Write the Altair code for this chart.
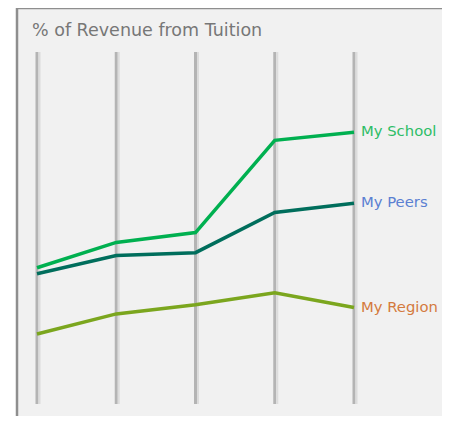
import altair as alt
import pandas as pd

years = [2015, 2016, 2017, 2018, 2019]
my_school = [38.7, 45.9, 48.7, 74.9, 77.2]
my_peers = [37.0, 42.2, 43.0, 54.4, 57.0]
my_region = [19.9, 25.6, 28.2, 31.6, 27.4]
series_names = ["My School", "My Peers", "My Region"]
line_colors = ["#00b050", "#006e5c", "#7ba61e"]
label_colors = ["#2dbd66", "#5b80d2", "#d47a3e"]
title_text = "% of Revenue from Tuition"

rows = []
for name, vals in zip(series_names, [my_school, my_peers, my_region]):
    for y, v in zip(years, vals):
        rows.append({"year": y, "value": v, "series": name})
df = pd.DataFrame(rows)
last = df[df["year"] == years[-1]]
grid = pd.DataFrame({"year": years, "lo": [0] * len(years), "hi": [100] * len(years)})

W, H = 425, 408
xs = alt.Scale(domain=[years[0], years[-1]], range=[20, 337])
ys = alt.Scale(domain=[0, 100], range=[396, 44])

g1 = alt.Chart(grid).mark_rule(color="#b4b4b4", strokeWidth=3).encode(
    x=alt.X("year:Q", scale=xs, axis=None),
    y=alt.Y("lo:Q", scale=ys, axis=None),
    y2="hi:Q",
)
g2 = alt.Chart(grid).mark_rule(color="#dcdcdc", strokeWidth=2, xOffset=2.5).encode(
    x=alt.X("year:Q", scale=xs, axis=None),
    y=alt.Y("lo:Q", scale=ys, axis=None),
    y2="hi:Q",
)

lines = alt.Chart(df).mark_line(strokeWidth=3.5).encode(
    x=alt.X("year:Q", scale=xs, axis=None),
    y=alt.Y("value:Q", scale=ys, axis=None),
    color=alt.Color("series:N", scale=alt.Scale(domain=series_names, range=line_colors), legend=None),
    detail="series:N",
)

labels = alt.Chart(last).mark_text(align="left", baseline="middle", dx=7, fontSize=14.8, font="DejaVu Sans").encode(
    x=alt.X("year:Q", scale=xs, axis=None),
    y=alt.Y("value:Q", scale=ys, axis=None),
    text="series:N",
    color=alt.Color("series:N", scale=alt.Scale(domain=series_names, range=label_colors), legend=None),
)

title = alt.Chart(pd.DataFrame({"t": [title_text]})).mark_text(
    align="left", baseline="middle", fontSize=17.5, font="DejaVu Sans", color="#777777"
).encode(x=alt.value(15), y=alt.value(23), text="t:N")

border_left = alt.Chart(pd.DataFrame({"a": [0]})).mark_rule(color="#8e8e8e", strokeWidth=2.5).encode(
    x=alt.value(0), y=alt.value(0), y2=alt.value(H)
)
border_top = alt.Chart(pd.DataFrame({"a": [0]})).mark_rule(color="#8e8e8e", strokeWidth=2.5).encode(
    x=alt.value(0), x2=alt.value(W), y=alt.value(0)
)

chart = alt.layer(g1, g2, lines, labels, title, border_left, border_top).resolve_scale(color="independent").properties(
    width=W, height=H, autosize=alt.AutoSizeParams(type="none"),
    padding={"left": 9, "top": 0, "right": 0, "bottom": 0},
).configure_view(fill="#f1f1f1", stroke="transparent")

chart.save("out.html", embed_options={"renderer": "svg", "actions": False})
